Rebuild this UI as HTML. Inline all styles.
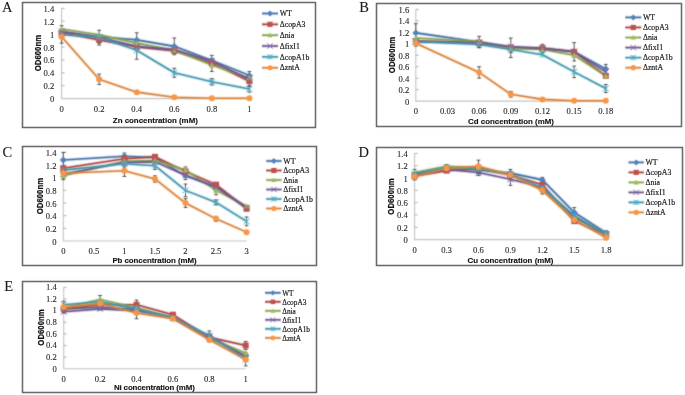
<!DOCTYPE html>
<html><head><meta charset="utf-8"><title>Figure</title>
<style>
html,body{margin:0;padding:0;background:#fff;}
body{width:685px;height:395px;overflow:hidden;font-family:"Liberation Sans",sans-serif;}
svg{display:block;will-change:transform;}
</style></head>
<body>
<svg width="685" height="395" viewBox="0 0 685 395">
<defs><filter id="bl" x="0" y="0" width="100%" height="100%" color-interpolation-filters="sRGB"><feConvolveMatrix order="3" kernelMatrix="0.03 0.09 0.03 0.09 0.52 0.09 0.03 0.09 0.03" divisor="1" edgeMode="duplicate" preserveAlpha="true"/></filter></defs>
<g filter="url(#bl)">
<rect width="685" height="395" fill="#fff"/>
<rect x="22.5" y="2.5" width="293" height="125" fill="#fff" stroke="#c8c8c8" stroke-width="1.6"/>
<rect x="22.5" y="2.5" width="293" height="125" fill="none" stroke="#333" stroke-width="1"/>
<path d="M61.60 8.30L61.60 98.60L249.40 98.60" stroke="#c4c4c4" stroke-width="1.1" fill="none"/>
<path d="M61.60 85.70H64.60" stroke="#a8a8a8" stroke-width="0.9"/>
<path d="M61.60 72.80H64.60" stroke="#a8a8a8" stroke-width="0.9"/>
<path d="M61.60 59.90H64.60" stroke="#a8a8a8" stroke-width="0.9"/>
<path d="M61.60 47.00H64.60" stroke="#a8a8a8" stroke-width="0.9"/>
<path d="M61.60 34.10H64.60" stroke="#a8a8a8" stroke-width="0.9"/>
<path d="M61.60 21.20H64.60" stroke="#a8a8a8" stroke-width="0.9"/>
<path d="M61.60 8.30H64.60" stroke="#a8a8a8" stroke-width="0.9"/>
<polyline points="61.60,31.52 99.16,36.68 136.72,39.90 174.28,46.35 211.84,60.54 249.40,75.38" fill="none" stroke="#4F81BD" stroke-opacity="0.22" stroke-width="3.6" stroke-linejoin="round"/>
<polyline points="61.60,31.52 99.16,36.68 136.72,39.90 174.28,46.35 211.84,60.54 249.40,75.38" fill="none" stroke="#4470a4" stroke-width="1.6" stroke-linejoin="round"/>
<polyline points="61.60,32.81 99.16,39.90 136.72,47.00 174.28,50.87 211.84,63.12 249.40,81.18" fill="none" stroke="#C0504D" stroke-opacity="0.22" stroke-width="3.6" stroke-linejoin="round"/>
<polyline points="61.60,32.81 99.16,39.90 136.72,47.00 174.28,50.87 211.84,63.12 249.40,81.18" fill="none" stroke="#a74542" stroke-width="1.6" stroke-linejoin="round"/>
<polyline points="61.60,28.94 99.16,34.74 136.72,43.13 174.28,50.22 211.84,65.06 249.40,77.96" fill="none" stroke="#9BBB59" stroke-opacity="0.22" stroke-width="3.6" stroke-linejoin="round"/>
<polyline points="61.60,28.94 99.16,34.74 136.72,43.13 174.28,50.22 211.84,65.06 249.40,77.96" fill="none" stroke="#86a24d" stroke-width="1.6" stroke-linejoin="round"/>
<polyline points="61.60,31.52 99.16,37.32 136.72,46.35 174.28,49.58 211.84,61.19 249.40,79.25" fill="none" stroke="#8064A2" stroke-opacity="0.22" stroke-width="3.6" stroke-linejoin="round"/>
<polyline points="61.60,31.52 99.16,37.32 136.72,46.35 174.28,49.58 211.84,61.19 249.40,79.25" fill="none" stroke="#6f578c" stroke-width="1.6" stroke-linejoin="round"/>
<polyline points="61.60,34.74 99.16,37.32 136.72,50.22 174.28,72.80 211.84,81.83 249.40,88.92" fill="none" stroke="#4BACC6" stroke-opacity="0.22" stroke-width="3.6" stroke-linejoin="round"/>
<polyline points="61.60,34.74 99.16,37.32 136.72,50.22 174.28,72.80 211.84,81.83 249.40,88.92" fill="none" stroke="#4195ac" stroke-width="1.6" stroke-linejoin="round"/>
<polyline points="61.60,36.68 99.16,79.25 136.72,92.15 174.28,97.31 211.84,98.28 249.40,98.28" fill="none" stroke="#F79646" stroke-opacity="0.22" stroke-width="3.6" stroke-linejoin="round"/>
<polyline points="61.60,36.68 99.16,79.25 136.72,92.15 174.28,97.31 211.84,98.28 249.40,98.28" fill="none" stroke="#d6823c" stroke-width="1.6" stroke-linejoin="round"/>
<path d="M61.60 25.71V37.32M59.70 25.71H63.50M59.70 37.32H63.50" stroke="#3a3a3a" stroke-width="0.85" fill="none"/>
<path d="M99.16 30.23V43.13M97.26 30.23H101.06M97.26 43.13H101.06" stroke="#3a3a3a" stroke-width="0.85" fill="none"/>
<path d="M136.72 32.81V47.00M134.82 32.81H138.62M134.82 47.00H138.62" stroke="#3a3a3a" stroke-width="0.85" fill="none"/>
<path d="M174.28 37.97V54.74M172.38 37.97H176.18M172.38 54.74H176.18" stroke="#3a3a3a" stroke-width="0.85" fill="none"/>
<path d="M211.84 55.38V65.70M209.94 55.38H213.74M209.94 65.70H213.74" stroke="#3a3a3a" stroke-width="0.85" fill="none"/>
<path d="M249.40 71.51V79.25M247.50 71.51H251.30M247.50 79.25H251.30" stroke="#3a3a3a" stroke-width="0.85" fill="none"/>
<path d="M99.16 34.74V45.06M97.26 34.74H101.06M97.26 45.06H101.06" stroke="#3a3a3a" stroke-width="0.85" fill="none"/>
<path d="M249.40 76.02V86.34M247.50 76.02H251.30M247.50 86.34H251.30" stroke="#3a3a3a" stroke-width="0.85" fill="none"/>
<path d="M211.84 58.61V71.51M209.94 58.61H213.74M209.94 71.51H213.74" stroke="#3a3a3a" stroke-width="0.85" fill="none"/>
<path d="M136.72 41.19V59.25M134.82 41.19H138.62M134.82 59.25H138.62" stroke="#3a3a3a" stroke-width="0.85" fill="none"/>
<path d="M174.28 68.28V77.31M172.38 68.28H176.18M172.38 77.31H176.18" stroke="#3a3a3a" stroke-width="0.85" fill="none"/>
<path d="M211.84 78.60V85.05M209.94 78.60H213.74M209.94 85.05H213.74" stroke="#3a3a3a" stroke-width="0.85" fill="none"/>
<path d="M249.40 85.70V92.15M247.50 85.70H251.30M247.50 92.15H251.30" stroke="#3a3a3a" stroke-width="0.85" fill="none"/>
<path d="M61.60 30.23V43.13M59.70 30.23H63.50M59.70 43.13H63.50" stroke="#3a3a3a" stroke-width="0.85" fill="none"/>
<path d="M99.16 74.09V84.41M97.26 74.09H101.06M97.26 84.41H101.06" stroke="#3a3a3a" stroke-width="0.85" fill="none"/>
<path d="M61.60 28.07L65.05 31.52L61.60 34.97L58.15 31.52Z" fill="#4F81BD"/>
<path d="M99.16 33.23L102.61 36.68L99.16 40.13L95.71 36.68Z" fill="#4F81BD"/>
<path d="M136.72 36.45L140.17 39.90L136.72 43.35L133.27 39.90Z" fill="#4F81BD"/>
<path d="M174.28 42.90L177.73 46.35L174.28 49.80L170.83 46.35Z" fill="#4F81BD"/>
<path d="M211.84 57.09L215.29 60.54L211.84 63.99L208.39 60.54Z" fill="#4F81BD"/>
<path d="M249.40 71.93L252.85 75.38L249.40 78.83L245.95 75.38Z" fill="#4F81BD"/>
<rect x="58.60" y="29.81" width="6.00" height="6.00" fill="#C0504D"/>
<rect x="96.16" y="36.90" width="6.00" height="6.00" fill="#C0504D"/>
<rect x="133.72" y="44.00" width="6.00" height="6.00" fill="#C0504D"/>
<rect x="171.28" y="47.87" width="6.00" height="6.00" fill="#C0504D"/>
<rect x="208.84" y="60.12" width="6.00" height="6.00" fill="#C0504D"/>
<rect x="246.40" y="78.18" width="6.00" height="6.00" fill="#C0504D"/>
<path d="M61.60 25.94L64.60 31.34L58.60 31.34Z" fill="#9BBB59"/>
<path d="M99.16 31.74L102.16 37.14L96.16 37.14Z" fill="#9BBB59"/>
<path d="M136.72 40.13L139.72 45.53L133.72 45.53Z" fill="#9BBB59"/>
<path d="M174.28 47.22L177.28 52.62L171.28 52.62Z" fill="#9BBB59"/>
<path d="M211.84 62.06L214.84 67.46L208.84 67.46Z" fill="#9BBB59"/>
<path d="M249.40 74.96L252.40 80.36L246.40 80.36Z" fill="#9BBB59"/>
<path d="M58.60 28.52L64.60 34.52M64.60 28.52L58.60 34.52" stroke="#8064A2" stroke-width="1" fill="none"/>
<path d="M96.16 34.32L102.16 40.32M102.16 34.32L96.16 40.32" stroke="#8064A2" stroke-width="1" fill="none"/>
<path d="M133.72 43.35L139.72 49.35M139.72 43.35L133.72 49.35" stroke="#8064A2" stroke-width="1" fill="none"/>
<path d="M171.28 46.58L177.28 52.58M177.28 46.58L171.28 52.58" stroke="#8064A2" stroke-width="1" fill="none"/>
<path d="M208.84 58.19L214.84 64.19M214.84 58.19L208.84 64.19" stroke="#8064A2" stroke-width="1" fill="none"/>
<path d="M246.40 76.25L252.40 82.25M252.40 76.25L246.40 82.25" stroke="#8064A2" stroke-width="1" fill="none"/>
<path d="M58.60 31.74L64.60 37.74M64.60 31.74L58.60 37.74M61.60 31.74L61.60 37.74" stroke="#4BACC6" stroke-width="1" fill="none"/>
<path d="M96.16 34.32L102.16 40.32M102.16 34.32L96.16 40.32M99.16 34.32L99.16 40.32" stroke="#4BACC6" stroke-width="1" fill="none"/>
<path d="M133.72 47.22L139.72 53.22M139.72 47.22L133.72 53.22M136.72 47.22L136.72 53.22" stroke="#4BACC6" stroke-width="1" fill="none"/>
<path d="M171.28 69.80L177.28 75.80M177.28 69.80L171.28 75.80M174.28 69.80L174.28 75.80" stroke="#4BACC6" stroke-width="1" fill="none"/>
<path d="M208.84 78.83L214.84 84.83M214.84 78.83L208.84 84.83M211.84 78.83L211.84 84.83" stroke="#4BACC6" stroke-width="1" fill="none"/>
<path d="M246.40 85.92L252.40 91.92M252.40 85.92L246.40 91.92M249.40 85.92L249.40 91.92" stroke="#4BACC6" stroke-width="1" fill="none"/>
<circle cx="61.60" cy="36.68" r="3.00" fill="#F79646"/>
<circle cx="99.16" cy="79.25" r="3.00" fill="#F79646"/>
<circle cx="136.72" cy="92.15" r="3.00" fill="#F79646"/>
<circle cx="174.28" cy="97.31" r="3.00" fill="#F79646"/>
<circle cx="211.84" cy="98.28" r="3.00" fill="#F79646"/>
<circle cx="249.40" cy="98.28" r="3.00" fill="#F79646"/>
<path d="M262 13.50H278" stroke="#4F81BD" stroke-opacity="0.22" stroke-width="3.6"/>
<path d="M262 13.50H278" stroke="#4470a4" stroke-width="1.6"/>
<path d="M270.00 10.51L272.99 13.50L270.00 16.49L267.01 13.50Z" fill="#4F81BD"/>
<path d="M262 24.35H278" stroke="#C0504D" stroke-opacity="0.22" stroke-width="3.6"/>
<path d="M262 24.35H278" stroke="#a74542" stroke-width="1.6"/>
<rect x="267.40" y="21.75" width="5.20" height="5.20" fill="#C0504D"/>
<path d="M262 35.20H278" stroke="#9BBB59" stroke-opacity="0.22" stroke-width="3.6"/>
<path d="M262 35.20H278" stroke="#86a24d" stroke-width="1.6"/>
<path d="M270.00 32.60L272.60 37.28L267.40 37.28Z" fill="#9BBB59"/>
<path d="M262 46.05H278" stroke="#8064A2" stroke-opacity="0.22" stroke-width="3.6"/>
<path d="M262 46.05H278" stroke="#6f578c" stroke-width="1.6"/>
<path d="M267.40 43.45L272.60 48.65M272.60 43.45L267.40 48.65" stroke="#8064A2" stroke-width="1" fill="none"/>
<path d="M262 56.90H278" stroke="#4BACC6" stroke-opacity="0.22" stroke-width="3.6"/>
<path d="M262 56.90H278" stroke="#4195ac" stroke-width="1.6"/>
<path d="M267.40 54.30L272.60 59.50M272.60 54.30L267.40 59.50M270.00 54.30L270.00 59.50" stroke="#4BACC6" stroke-width="1" fill="none"/>
<path d="M262 67.75H278" stroke="#F79646" stroke-opacity="0.22" stroke-width="3.6"/>
<path d="M262 67.75H278" stroke="#d6823c" stroke-width="1.6"/>
<circle cx="270.00" cy="67.75" r="2.60" fill="#F79646"/>
<rect x="376.5" y="3.5" width="305" height="123" fill="#fff" stroke="#c8c8c8" stroke-width="1.6"/>
<rect x="376.5" y="3.5" width="305" height="123" fill="none" stroke="#333" stroke-width="1"/>
<path d="M415.80 9.40L415.80 101.10L605.80 101.10" stroke="#c4c4c4" stroke-width="1.1" fill="none"/>
<path d="M415.80 89.64H418.80" stroke="#a8a8a8" stroke-width="0.9"/>
<path d="M415.80 78.17H418.80" stroke="#a8a8a8" stroke-width="0.9"/>
<path d="M415.80 66.71H418.80" stroke="#a8a8a8" stroke-width="0.9"/>
<path d="M415.80 55.25H418.80" stroke="#a8a8a8" stroke-width="0.9"/>
<path d="M415.80 43.79H418.80" stroke="#a8a8a8" stroke-width="0.9"/>
<path d="M415.80 32.33H418.80" stroke="#a8a8a8" stroke-width="0.9"/>
<path d="M415.80 20.86H418.80" stroke="#a8a8a8" stroke-width="0.9"/>
<path d="M415.80 9.40H418.80" stroke="#a8a8a8" stroke-width="0.9"/>
<polyline points="415.80,32.90 479.13,42.07 510.80,47.80 542.47,48.37 574.13,51.81 605.80,69.00" fill="none" stroke="#4F81BD" stroke-opacity="0.22" stroke-width="3.6" stroke-linejoin="round"/>
<polyline points="415.80,32.90 479.13,42.07 510.80,47.80 542.47,48.37 574.13,51.81 605.80,69.00" fill="none" stroke="#4470a4" stroke-width="1.6" stroke-linejoin="round"/>
<polyline points="415.80,40.92 479.13,42.64 510.80,47.80 542.47,48.37 574.13,51.81 605.80,75.88" fill="none" stroke="#C0504D" stroke-opacity="0.22" stroke-width="3.6" stroke-linejoin="round"/>
<polyline points="415.80,40.92 479.13,42.64 510.80,47.80 542.47,48.37 574.13,51.81 605.80,75.88" fill="none" stroke="#a74542" stroke-width="1.6" stroke-linejoin="round"/>
<polyline points="415.80,38.06 479.13,41.49 510.80,48.37 542.47,49.52 574.13,55.25 605.80,75.88" fill="none" stroke="#9BBB59" stroke-opacity="0.22" stroke-width="3.6" stroke-linejoin="round"/>
<polyline points="415.80,38.06 479.13,41.49 510.80,48.37 542.47,49.52 574.13,55.25 605.80,75.88" fill="none" stroke="#86a24d" stroke-width="1.6" stroke-linejoin="round"/>
<polyline points="415.80,42.07 479.13,42.64 510.80,46.65 542.47,48.37 574.13,51.81 605.80,71.87" fill="none" stroke="#8064A2" stroke-opacity="0.22" stroke-width="3.6" stroke-linejoin="round"/>
<polyline points="415.80,42.07 479.13,42.64 510.80,46.65 542.47,48.37 574.13,51.81 605.80,71.87" fill="none" stroke="#6f578c" stroke-width="1.6" stroke-linejoin="round"/>
<polyline points="415.80,41.49 479.13,44.36 510.80,49.52 542.47,54.68 574.13,71.87 605.80,88.49" fill="none" stroke="#4BACC6" stroke-opacity="0.22" stroke-width="3.6" stroke-linejoin="round"/>
<polyline points="415.80,41.49 479.13,44.36 510.80,49.52 542.47,54.68 574.13,71.87 605.80,88.49" fill="none" stroke="#4195ac" stroke-width="1.6" stroke-linejoin="round"/>
<polyline points="415.80,43.21 479.13,72.44 510.80,94.22 542.47,99.38 574.13,100.81 605.80,100.81" fill="none" stroke="#F79646" stroke-opacity="0.22" stroke-width="3.6" stroke-linejoin="round"/>
<polyline points="415.80,43.21 479.13,72.44 510.80,94.22 542.47,99.38 574.13,100.81 605.80,100.81" fill="none" stroke="#d6823c" stroke-width="1.6" stroke-linejoin="round"/>
<path d="M415.80 23.73V42.07M413.90 23.73H417.70M413.90 42.07H417.70" stroke="#3a3a3a" stroke-width="0.85" fill="none"/>
<path d="M479.13 36.34V47.80M477.23 36.34H481.03M477.23 47.80H481.03" stroke="#3a3a3a" stroke-width="0.85" fill="none"/>
<path d="M510.80 38.06V57.54M508.90 38.06H512.70M508.90 57.54H512.70" stroke="#3a3a3a" stroke-width="0.85" fill="none"/>
<path d="M542.47 44.36V52.38M540.57 44.36H544.37M540.57 52.38H544.37" stroke="#3a3a3a" stroke-width="0.85" fill="none"/>
<path d="M574.13 42.64V60.98M572.23 42.64H576.03M572.23 60.98H576.03" stroke="#3a3a3a" stroke-width="0.85" fill="none"/>
<path d="M605.80 64.42V73.59M603.90 64.42H607.70M603.90 73.59H607.70" stroke="#3a3a3a" stroke-width="0.85" fill="none"/>
<path d="M479.13 41.49V47.23M477.23 41.49H481.03M477.23 47.23H481.03" stroke="#3a3a3a" stroke-width="0.85" fill="none"/>
<path d="M510.80 46.65V52.38M508.90 46.65H512.70M508.90 52.38H512.70" stroke="#3a3a3a" stroke-width="0.85" fill="none"/>
<path d="M574.13 66.14V77.60M572.23 66.14H576.03M572.23 77.60H576.03" stroke="#3a3a3a" stroke-width="0.85" fill="none"/>
<path d="M605.80 84.48V92.50M603.90 84.48H607.70M603.90 92.50H607.70" stroke="#3a3a3a" stroke-width="0.85" fill="none"/>
<path d="M415.80 40.35V46.08M413.90 40.35H417.70M413.90 46.08H417.70" stroke="#3a3a3a" stroke-width="0.85" fill="none"/>
<path d="M479.13 66.71V78.17M477.23 66.71H481.03M477.23 78.17H481.03" stroke="#3a3a3a" stroke-width="0.85" fill="none"/>
<path d="M510.80 91.36V97.09M508.90 91.36H512.70M508.90 97.09H512.70" stroke="#3a3a3a" stroke-width="0.85" fill="none"/>
<path d="M415.80 29.45L419.25 32.90L415.80 36.35L412.35 32.90Z" fill="#4F81BD"/>
<path d="M479.13 38.62L482.58 42.07L479.13 45.52L475.68 42.07Z" fill="#4F81BD"/>
<path d="M510.80 44.35L514.25 47.80L510.80 51.25L507.35 47.80Z" fill="#4F81BD"/>
<path d="M542.47 44.92L545.92 48.37L542.47 51.82L539.02 48.37Z" fill="#4F81BD"/>
<path d="M574.13 48.36L577.58 51.81L574.13 55.26L570.68 51.81Z" fill="#4F81BD"/>
<path d="M605.80 65.55L609.25 69.00L605.80 72.45L602.35 69.00Z" fill="#4F81BD"/>
<rect x="412.80" y="37.92" width="6.00" height="6.00" fill="#C0504D"/>
<rect x="476.13" y="39.64" width="6.00" height="6.00" fill="#C0504D"/>
<rect x="507.80" y="44.80" width="6.00" height="6.00" fill="#C0504D"/>
<rect x="539.47" y="45.37" width="6.00" height="6.00" fill="#C0504D"/>
<rect x="571.13" y="48.81" width="6.00" height="6.00" fill="#C0504D"/>
<rect x="602.80" y="72.88" width="6.00" height="6.00" fill="#C0504D"/>
<path d="M415.80 35.06L418.80 40.46L412.80 40.46Z" fill="#9BBB59"/>
<path d="M479.13 38.49L482.13 43.89L476.13 43.89Z" fill="#9BBB59"/>
<path d="M510.80 45.37L513.80 50.77L507.80 50.77Z" fill="#9BBB59"/>
<path d="M542.47 46.52L545.47 51.92L539.47 51.92Z" fill="#9BBB59"/>
<path d="M574.13 52.25L577.13 57.65L571.13 57.65Z" fill="#9BBB59"/>
<path d="M605.80 72.88L608.80 78.28L602.80 78.28Z" fill="#9BBB59"/>
<path d="M412.80 39.07L418.80 45.07M418.80 39.07L412.80 45.07" stroke="#8064A2" stroke-width="1" fill="none"/>
<path d="M476.13 39.64L482.13 45.64M482.13 39.64L476.13 45.64" stroke="#8064A2" stroke-width="1" fill="none"/>
<path d="M507.80 43.65L513.80 49.65M513.80 43.65L507.80 49.65" stroke="#8064A2" stroke-width="1" fill="none"/>
<path d="M539.47 45.37L545.47 51.37M545.47 45.37L539.47 51.37" stroke="#8064A2" stroke-width="1" fill="none"/>
<path d="M571.13 48.81L577.13 54.81M577.13 48.81L571.13 54.81" stroke="#8064A2" stroke-width="1" fill="none"/>
<path d="M602.80 68.87L608.80 74.87M608.80 68.87L602.80 74.87" stroke="#8064A2" stroke-width="1" fill="none"/>
<path d="M412.80 38.49L418.80 44.49M418.80 38.49L412.80 44.49M415.80 38.49L415.80 44.49" stroke="#4BACC6" stroke-width="1" fill="none"/>
<path d="M476.13 41.36L482.13 47.36M482.13 41.36L476.13 47.36M479.13 41.36L479.13 47.36" stroke="#4BACC6" stroke-width="1" fill="none"/>
<path d="M507.80 46.52L513.80 52.52M513.80 46.52L507.80 52.52M510.80 46.52L510.80 52.52" stroke="#4BACC6" stroke-width="1" fill="none"/>
<path d="M539.47 51.68L545.47 57.68M545.47 51.68L539.47 57.68M542.47 51.68L542.47 57.68" stroke="#4BACC6" stroke-width="1" fill="none"/>
<path d="M571.13 68.87L577.13 74.87M577.13 68.87L571.13 74.87M574.13 68.87L574.13 74.87" stroke="#4BACC6" stroke-width="1" fill="none"/>
<path d="M602.80 85.49L608.80 91.49M608.80 85.49L602.80 91.49M605.80 85.49L605.80 91.49" stroke="#4BACC6" stroke-width="1" fill="none"/>
<circle cx="415.80" cy="43.21" r="3.00" fill="#F79646"/>
<circle cx="479.13" cy="72.44" r="3.00" fill="#F79646"/>
<circle cx="510.80" cy="94.22" r="3.00" fill="#F79646"/>
<circle cx="542.47" cy="99.38" r="3.00" fill="#F79646"/>
<circle cx="574.13" cy="100.81" r="3.00" fill="#F79646"/>
<circle cx="605.80" cy="100.81" r="3.00" fill="#F79646"/>
<path d="M625.3 17.40H641.2" stroke="#4F81BD" stroke-opacity="0.22" stroke-width="3.6"/>
<path d="M625.3 17.40H641.2" stroke="#4470a4" stroke-width="1.6"/>
<path d="M633.25 14.41L636.24 17.40L633.25 20.39L630.26 17.40Z" fill="#4F81BD"/>
<path d="M625.3 27.46H641.2" stroke="#C0504D" stroke-opacity="0.22" stroke-width="3.6"/>
<path d="M625.3 27.46H641.2" stroke="#a74542" stroke-width="1.6"/>
<rect x="630.65" y="24.86" width="5.20" height="5.20" fill="#C0504D"/>
<path d="M625.3 37.52H641.2" stroke="#9BBB59" stroke-opacity="0.22" stroke-width="3.6"/>
<path d="M625.3 37.52H641.2" stroke="#86a24d" stroke-width="1.6"/>
<path d="M633.25 34.92L635.85 39.60L630.65 39.60Z" fill="#9BBB59"/>
<path d="M625.3 47.58H641.2" stroke="#8064A2" stroke-opacity="0.22" stroke-width="3.6"/>
<path d="M625.3 47.58H641.2" stroke="#6f578c" stroke-width="1.6"/>
<path d="M630.65 44.98L635.85 50.18M635.85 44.98L630.65 50.18" stroke="#8064A2" stroke-width="1" fill="none"/>
<path d="M625.3 57.64H641.2" stroke="#4BACC6" stroke-opacity="0.22" stroke-width="3.6"/>
<path d="M625.3 57.64H641.2" stroke="#4195ac" stroke-width="1.6"/>
<path d="M630.65 55.04L635.85 60.24M635.85 55.04L630.65 60.24M633.25 55.04L633.25 60.24" stroke="#4BACC6" stroke-width="1" fill="none"/>
<path d="M625.3 67.70H641.2" stroke="#F79646" stroke-opacity="0.22" stroke-width="3.6"/>
<path d="M625.3 67.70H641.2" stroke="#d6823c" stroke-width="1.6"/>
<circle cx="633.25" cy="67.70" r="2.60" fill="#F79646"/>
<rect x="22.5" y="146.5" width="294" height="119" fill="#fff" stroke="#c8c8c8" stroke-width="1.6"/>
<rect x="22.5" y="146.5" width="294" height="119" fill="none" stroke="#333" stroke-width="1"/>
<path d="M63.30 152.40L63.30 241.00L246.60 241.00" stroke="#c4c4c4" stroke-width="1.1" fill="none"/>
<path d="M63.30 228.34H66.30" stroke="#a8a8a8" stroke-width="0.9"/>
<path d="M63.30 215.69H66.30" stroke="#a8a8a8" stroke-width="0.9"/>
<path d="M63.30 203.03H66.30" stroke="#a8a8a8" stroke-width="0.9"/>
<path d="M63.30 190.37H66.30" stroke="#a8a8a8" stroke-width="0.9"/>
<path d="M63.30 177.71H66.30" stroke="#a8a8a8" stroke-width="0.9"/>
<path d="M63.30 165.06H66.30" stroke="#a8a8a8" stroke-width="0.9"/>
<path d="M63.30 152.40H66.30" stroke="#a8a8a8" stroke-width="0.9"/>
<polyline points="63.30,159.99 124.40,156.20 154.95,157.46 185.50,175.82 216.05,186.57 246.60,208.09" fill="none" stroke="#4F81BD" stroke-opacity="0.22" stroke-width="3.6" stroke-linejoin="round"/>
<polyline points="63.30,159.99 124.40,156.20 154.95,157.46 185.50,175.82 216.05,186.57 246.60,208.09" fill="none" stroke="#4470a4" stroke-width="1.6" stroke-linejoin="round"/>
<polyline points="63.30,168.22 124.40,158.73 154.95,156.83 185.50,171.39 216.05,184.68 246.60,208.72" fill="none" stroke="#C0504D" stroke-opacity="0.22" stroke-width="3.6" stroke-linejoin="round"/>
<polyline points="63.30,168.22 124.40,158.73 154.95,156.83 185.50,171.39 216.05,184.68 246.60,208.72" fill="none" stroke="#a74542" stroke-width="1.6" stroke-linejoin="round"/>
<polyline points="63.30,175.82 124.40,161.26 154.95,160.63 185.50,170.12 216.05,190.37 246.60,206.19" fill="none" stroke="#9BBB59" stroke-opacity="0.22" stroke-width="3.6" stroke-linejoin="round"/>
<polyline points="63.30,175.82 124.40,161.26 154.95,160.63 185.50,170.12 216.05,190.37 246.60,206.19" fill="none" stroke="#86a24d" stroke-width="1.6" stroke-linejoin="round"/>
<polyline points="63.30,173.92 124.40,162.53 154.95,161.89 185.50,175.18 216.05,187.21 246.60,207.46" fill="none" stroke="#8064A2" stroke-opacity="0.22" stroke-width="3.6" stroke-linejoin="round"/>
<polyline points="63.30,173.92 124.40,162.53 154.95,161.89 185.50,175.18 216.05,187.21 246.60,207.46" fill="none" stroke="#6f578c" stroke-width="1.6" stroke-linejoin="round"/>
<polyline points="63.30,170.12 124.40,163.79 154.95,165.69 185.50,190.37 216.05,202.40 246.60,221.38" fill="none" stroke="#4BACC6" stroke-opacity="0.22" stroke-width="3.6" stroke-linejoin="round"/>
<polyline points="63.30,170.12 124.40,163.79 154.95,165.69 185.50,190.37 216.05,202.40 246.60,221.38" fill="none" stroke="#4195ac" stroke-width="1.6" stroke-linejoin="round"/>
<polyline points="63.30,173.28 124.40,170.75 154.95,178.98 185.50,203.03 216.05,218.85 246.60,232.14" fill="none" stroke="#F79646" stroke-opacity="0.22" stroke-width="3.6" stroke-linejoin="round"/>
<polyline points="63.30,173.28 124.40,170.75 154.95,178.98 185.50,203.03 216.05,218.85 246.60,232.14" fill="none" stroke="#d6823c" stroke-width="1.6" stroke-linejoin="round"/>
<path d="M63.30 152.40V167.59M61.40 152.40H65.20M61.40 167.59H65.20" stroke="#3a3a3a" stroke-width="0.85" fill="none"/>
<path d="M124.40 153.03V159.36M122.50 153.03H126.30M122.50 159.36H126.30" stroke="#3a3a3a" stroke-width="0.85" fill="none"/>
<path d="M154.95 154.93V159.99M153.05 154.93H156.85M153.05 159.99H156.85" stroke="#3a3a3a" stroke-width="0.85" fill="none"/>
<path d="M185.50 172.02V179.61M183.60 172.02H187.40M183.60 179.61H187.40" stroke="#3a3a3a" stroke-width="0.85" fill="none"/>
<path d="M216.05 183.41V189.74M214.15 183.41H217.95M214.15 189.74H217.95" stroke="#3a3a3a" stroke-width="0.85" fill="none"/>
<path d="M246.60 206.19V209.99M244.70 206.19H248.50M244.70 209.99H248.50" stroke="#3a3a3a" stroke-width="0.85" fill="none"/>
<path d="M63.30 172.02V179.61M61.40 172.02H65.20M61.40 179.61H65.20" stroke="#3a3a3a" stroke-width="0.85" fill="none"/>
<path d="M185.50 166.96V173.28M183.60 166.96H187.40M183.60 173.28H187.40" stroke="#3a3a3a" stroke-width="0.85" fill="none"/>
<path d="M216.05 185.94V194.80M214.15 185.94H217.95M214.15 194.80H217.95" stroke="#3a3a3a" stroke-width="0.85" fill="none"/>
<path d="M124.40 160.63V166.96M122.50 160.63H126.30M122.50 166.96H126.30" stroke="#3a3a3a" stroke-width="0.85" fill="none"/>
<path d="M154.95 161.89V169.49M153.05 161.89H156.85M153.05 169.49H156.85" stroke="#3a3a3a" stroke-width="0.85" fill="none"/>
<path d="M185.50 184.04V196.70M183.60 184.04H187.40M183.60 196.70H187.40" stroke="#3a3a3a" stroke-width="0.85" fill="none"/>
<path d="M216.05 199.86V204.93M214.15 199.86H217.95M214.15 204.93H217.95" stroke="#3a3a3a" stroke-width="0.85" fill="none"/>
<path d="M246.60 216.95V225.81M244.70 216.95H248.50M244.70 225.81H248.50" stroke="#3a3a3a" stroke-width="0.85" fill="none"/>
<path d="M63.30 168.85V177.71M61.40 168.85H65.20M61.40 177.71H65.20" stroke="#3a3a3a" stroke-width="0.85" fill="none"/>
<path d="M124.40 165.06V176.45M122.50 165.06H126.30M122.50 176.45H126.30" stroke="#3a3a3a" stroke-width="0.85" fill="none"/>
<path d="M154.95 175.82V182.14M153.05 175.82H156.85M153.05 182.14H156.85" stroke="#3a3a3a" stroke-width="0.85" fill="none"/>
<path d="M185.50 198.60V207.46M183.60 198.60H187.40M183.60 207.46H187.40" stroke="#3a3a3a" stroke-width="0.85" fill="none"/>
<path d="M216.05 216.32V221.38M214.15 216.32H217.95M214.15 221.38H217.95" stroke="#3a3a3a" stroke-width="0.85" fill="none"/>
<path d="M63.30 156.54L66.75 159.99L63.30 163.44L59.85 159.99Z" fill="#4F81BD"/>
<path d="M124.40 152.75L127.85 156.20L124.40 159.65L120.95 156.20Z" fill="#4F81BD"/>
<path d="M154.95 154.01L158.40 157.46L154.95 160.91L151.50 157.46Z" fill="#4F81BD"/>
<path d="M185.50 172.37L188.95 175.82L185.50 179.27L182.05 175.82Z" fill="#4F81BD"/>
<path d="M216.05 183.12L219.50 186.57L216.05 190.02L212.60 186.57Z" fill="#4F81BD"/>
<path d="M246.60 204.64L250.05 208.09L246.60 211.54L243.15 208.09Z" fill="#4F81BD"/>
<rect x="60.30" y="165.22" width="6.00" height="6.00" fill="#C0504D"/>
<rect x="121.40" y="155.73" width="6.00" height="6.00" fill="#C0504D"/>
<rect x="151.95" y="153.83" width="6.00" height="6.00" fill="#C0504D"/>
<rect x="182.50" y="168.39" width="6.00" height="6.00" fill="#C0504D"/>
<rect x="213.05" y="181.68" width="6.00" height="6.00" fill="#C0504D"/>
<rect x="243.60" y="205.72" width="6.00" height="6.00" fill="#C0504D"/>
<path d="M63.30 172.82L66.30 178.22L60.30 178.22Z" fill="#9BBB59"/>
<path d="M124.40 158.26L127.40 163.66L121.40 163.66Z" fill="#9BBB59"/>
<path d="M154.95 157.63L157.95 163.03L151.95 163.03Z" fill="#9BBB59"/>
<path d="M185.50 167.12L188.50 172.52L182.50 172.52Z" fill="#9BBB59"/>
<path d="M216.05 187.37L219.05 192.77L213.05 192.77Z" fill="#9BBB59"/>
<path d="M246.60 203.19L249.60 208.59L243.60 208.59Z" fill="#9BBB59"/>
<path d="M60.30 170.92L66.30 176.92M66.30 170.92L60.30 176.92" stroke="#8064A2" stroke-width="1" fill="none"/>
<path d="M121.40 159.53L127.40 165.53M127.40 159.53L121.40 165.53" stroke="#8064A2" stroke-width="1" fill="none"/>
<path d="M151.95 158.89L157.95 164.89M157.95 158.89L151.95 164.89" stroke="#8064A2" stroke-width="1" fill="none"/>
<path d="M182.50 172.18L188.50 178.18M188.50 172.18L182.50 178.18" stroke="#8064A2" stroke-width="1" fill="none"/>
<path d="M213.05 184.21L219.05 190.21M219.05 184.21L213.05 190.21" stroke="#8064A2" stroke-width="1" fill="none"/>
<path d="M243.60 204.46L249.60 210.46M249.60 204.46L243.60 210.46" stroke="#8064A2" stroke-width="1" fill="none"/>
<path d="M60.30 167.12L66.30 173.12M66.30 167.12L60.30 173.12M63.30 167.12L63.30 173.12" stroke="#4BACC6" stroke-width="1" fill="none"/>
<path d="M121.40 160.79L127.40 166.79M127.40 160.79L121.40 166.79M124.40 160.79L124.40 166.79" stroke="#4BACC6" stroke-width="1" fill="none"/>
<path d="M151.95 162.69L157.95 168.69M157.95 162.69L151.95 168.69M154.95 162.69L154.95 168.69" stroke="#4BACC6" stroke-width="1" fill="none"/>
<path d="M182.50 187.37L188.50 193.37M188.50 187.37L182.50 193.37M185.50 187.37L185.50 193.37" stroke="#4BACC6" stroke-width="1" fill="none"/>
<path d="M213.05 199.40L219.05 205.40M219.05 199.40L213.05 205.40M216.05 199.40L216.05 205.40" stroke="#4BACC6" stroke-width="1" fill="none"/>
<path d="M243.60 218.38L249.60 224.38M249.60 218.38L243.60 224.38M246.60 218.38L246.60 224.38" stroke="#4BACC6" stroke-width="1" fill="none"/>
<circle cx="63.30" cy="173.28" r="3.00" fill="#F79646"/>
<circle cx="124.40" cy="170.75" r="3.00" fill="#F79646"/>
<circle cx="154.95" cy="178.98" r="3.00" fill="#F79646"/>
<circle cx="185.50" cy="203.03" r="3.00" fill="#F79646"/>
<circle cx="216.05" cy="218.85" r="3.00" fill="#F79646"/>
<circle cx="246.60" cy="232.14" r="3.00" fill="#F79646"/>
<path d="M266.2 161.00H281.6" stroke="#4F81BD" stroke-opacity="0.22" stroke-width="3.6"/>
<path d="M266.2 161.00H281.6" stroke="#4470a4" stroke-width="1.6"/>
<path d="M273.90 158.01L276.89 161.00L273.90 163.99L270.91 161.00Z" fill="#4F81BD"/>
<path d="M266.2 170.50H281.6" stroke="#C0504D" stroke-opacity="0.22" stroke-width="3.6"/>
<path d="M266.2 170.50H281.6" stroke="#a74542" stroke-width="1.6"/>
<rect x="271.30" y="167.90" width="5.20" height="5.20" fill="#C0504D"/>
<path d="M266.2 180.00H281.6" stroke="#9BBB59" stroke-opacity="0.22" stroke-width="3.6"/>
<path d="M266.2 180.00H281.6" stroke="#86a24d" stroke-width="1.6"/>
<path d="M273.90 177.40L276.50 182.08L271.30 182.08Z" fill="#9BBB59"/>
<path d="M266.2 189.50H281.6" stroke="#8064A2" stroke-opacity="0.22" stroke-width="3.6"/>
<path d="M266.2 189.50H281.6" stroke="#6f578c" stroke-width="1.6"/>
<path d="M271.30 186.90L276.50 192.10M276.50 186.90L271.30 192.10" stroke="#8064A2" stroke-width="1" fill="none"/>
<path d="M266.2 199.00H281.6" stroke="#4BACC6" stroke-opacity="0.22" stroke-width="3.6"/>
<path d="M266.2 199.00H281.6" stroke="#4195ac" stroke-width="1.6"/>
<path d="M271.30 196.40L276.50 201.60M276.50 196.40L271.30 201.60M273.90 196.40L273.90 201.60" stroke="#4BACC6" stroke-width="1" fill="none"/>
<path d="M266.2 208.50H281.6" stroke="#F79646" stroke-opacity="0.22" stroke-width="3.6"/>
<path d="M266.2 208.50H281.6" stroke="#d6823c" stroke-width="1.6"/>
<circle cx="273.90" cy="208.50" r="2.60" fill="#F79646"/>
<rect x="376.5" y="147.5" width="306" height="118" fill="#fff" stroke="#c8c8c8" stroke-width="1.6"/>
<rect x="376.5" y="147.5" width="306" height="118" fill="none" stroke="#333" stroke-width="1"/>
<path d="M414.60 153.40L414.60 239.60L606.20 239.60" stroke="#c4c4c4" stroke-width="1.1" fill="none"/>
<path d="M414.60 227.29H417.60" stroke="#a8a8a8" stroke-width="0.9"/>
<path d="M414.60 214.97H417.60" stroke="#a8a8a8" stroke-width="0.9"/>
<path d="M414.60 202.66H417.60" stroke="#a8a8a8" stroke-width="0.9"/>
<path d="M414.60 190.34H417.60" stroke="#a8a8a8" stroke-width="0.9"/>
<path d="M414.60 178.03H417.60" stroke="#a8a8a8" stroke-width="0.9"/>
<path d="M414.60 165.71H417.60" stroke="#a8a8a8" stroke-width="0.9"/>
<path d="M414.60 153.40H417.60" stroke="#a8a8a8" stroke-width="0.9"/>
<polyline points="414.60,174.33 446.53,168.18 478.47,170.02 510.40,173.10 542.33,179.88 574.27,212.51 606.20,232.83" fill="none" stroke="#4F81BD" stroke-opacity="0.22" stroke-width="3.6" stroke-linejoin="round"/>
<polyline points="414.60,174.33 446.53,168.18 478.47,170.02 510.40,173.10 542.33,179.88 574.27,212.51 606.20,232.83" fill="none" stroke="#4470a4" stroke-width="1.6" stroke-linejoin="round"/>
<polyline points="414.60,176.18 446.53,170.64 478.47,168.79 510.40,174.95 542.33,184.80 574.27,221.13 606.20,234.67" fill="none" stroke="#C0504D" stroke-opacity="0.22" stroke-width="3.6" stroke-linejoin="round"/>
<polyline points="414.60,176.18 446.53,170.64 478.47,168.79 510.40,174.95 542.33,184.80 574.27,221.13 606.20,234.67" fill="none" stroke="#a74542" stroke-width="1.6" stroke-linejoin="round"/>
<polyline points="414.60,172.49 446.53,166.33 478.47,167.56 510.40,174.33 542.33,189.73 574.27,218.05 606.20,233.44" fill="none" stroke="#9BBB59" stroke-opacity="0.22" stroke-width="3.6" stroke-linejoin="round"/>
<polyline points="414.60,172.49 446.53,166.33 478.47,167.56 510.40,174.33 542.33,189.73 574.27,218.05 606.20,233.44" fill="none" stroke="#86a24d" stroke-width="1.6" stroke-linejoin="round"/>
<polyline points="414.60,174.95 446.53,169.41 478.47,172.49 510.40,179.26 542.33,187.26 574.27,216.82 606.20,234.06" fill="none" stroke="#8064A2" stroke-opacity="0.22" stroke-width="3.6" stroke-linejoin="round"/>
<polyline points="414.60,174.95 446.53,169.41 478.47,172.49 510.40,179.26 542.33,187.26 574.27,216.82 606.20,234.06" fill="none" stroke="#6f578c" stroke-width="1.6" stroke-linejoin="round"/>
<polyline points="414.60,173.72 446.53,167.56 478.47,168.79 510.40,174.33 542.33,187.88 574.27,215.59 606.20,234.67" fill="none" stroke="#4BACC6" stroke-opacity="0.22" stroke-width="3.6" stroke-linejoin="round"/>
<polyline points="414.60,173.72 446.53,167.56 478.47,168.79 510.40,174.33 542.33,187.88 574.27,215.59 606.20,234.67" fill="none" stroke="#4195ac" stroke-width="1.6" stroke-linejoin="round"/>
<polyline points="414.60,176.80 446.53,168.18 478.47,166.33 510.40,174.95 542.33,190.34 574.27,219.90 606.20,237.75" fill="none" stroke="#F79646" stroke-opacity="0.22" stroke-width="3.6" stroke-linejoin="round"/>
<polyline points="414.60,176.80 446.53,168.18 478.47,166.33 510.40,174.95 542.33,190.34 574.27,219.90 606.20,237.75" fill="none" stroke="#d6823c" stroke-width="1.6" stroke-linejoin="round"/>
<path d="M414.60 169.41V179.26M412.70 169.41H416.50M412.70 179.26H416.50" stroke="#3a3a3a" stroke-width="0.85" fill="none"/>
<path d="M446.53 164.48V171.87M444.63 164.48H448.43M444.63 171.87H448.43" stroke="#3a3a3a" stroke-width="0.85" fill="none"/>
<path d="M478.47 166.33V173.72M476.57 166.33H480.37M476.57 173.72H480.37" stroke="#3a3a3a" stroke-width="0.85" fill="none"/>
<path d="M510.40 169.41V176.80M508.50 169.41H512.30M508.50 176.80H512.30" stroke="#3a3a3a" stroke-width="0.85" fill="none"/>
<path d="M542.33 177.41V182.34M540.43 177.41H544.23M540.43 182.34H544.23" stroke="#3a3a3a" stroke-width="0.85" fill="none"/>
<path d="M574.27 207.58V217.43M572.37 207.58H576.17M572.37 217.43H576.17" stroke="#3a3a3a" stroke-width="0.85" fill="none"/>
<path d="M606.20 230.98V234.67M604.30 230.98H608.10M604.30 234.67H608.10" stroke="#3a3a3a" stroke-width="0.85" fill="none"/>
<path d="M478.47 169.41V175.57M476.57 169.41H480.37M476.57 175.57H480.37" stroke="#3a3a3a" stroke-width="0.85" fill="none"/>
<path d="M510.40 173.10V185.42M508.50 173.10H512.30M508.50 185.42H512.30" stroke="#3a3a3a" stroke-width="0.85" fill="none"/>
<path d="M414.60 173.72V179.88M412.70 173.72H416.50M412.70 179.88H416.50" stroke="#3a3a3a" stroke-width="0.85" fill="none"/>
<path d="M446.53 166.33V170.02M444.63 166.33H448.43M444.63 170.02H448.43" stroke="#3a3a3a" stroke-width="0.85" fill="none"/>
<path d="M478.47 160.17V172.49M476.57 160.17H480.37M476.57 172.49H480.37" stroke="#3a3a3a" stroke-width="0.85" fill="none"/>
<path d="M510.40 171.87V178.03M508.50 171.87H512.30M508.50 178.03H512.30" stroke="#3a3a3a" stroke-width="0.85" fill="none"/>
<path d="M542.33 186.65V194.04M540.43 186.65H544.23M540.43 194.04H544.23" stroke="#3a3a3a" stroke-width="0.85" fill="none"/>
<path d="M574.27 218.05V221.74M572.37 218.05H576.17M572.37 221.74H576.17" stroke="#3a3a3a" stroke-width="0.85" fill="none"/>
<path d="M606.20 235.91V239.60M604.30 235.91H608.10M604.30 239.60H608.10" stroke="#3a3a3a" stroke-width="0.85" fill="none"/>
<path d="M414.60 170.88L418.05 174.33L414.60 177.78L411.15 174.33Z" fill="#4F81BD"/>
<path d="M446.53 164.73L449.98 168.18L446.53 171.63L443.08 168.18Z" fill="#4F81BD"/>
<path d="M478.47 166.57L481.92 170.02L478.47 173.47L475.02 170.02Z" fill="#4F81BD"/>
<path d="M510.40 169.65L513.85 173.10L510.40 176.55L506.95 173.10Z" fill="#4F81BD"/>
<path d="M542.33 176.43L545.78 179.88L542.33 183.33L538.88 179.88Z" fill="#4F81BD"/>
<path d="M574.27 209.06L577.72 212.51L574.27 215.96L570.82 212.51Z" fill="#4F81BD"/>
<path d="M606.20 229.38L609.65 232.83L606.20 236.28L602.75 232.83Z" fill="#4F81BD"/>
<rect x="411.60" y="173.18" width="6.00" height="6.00" fill="#C0504D"/>
<rect x="443.53" y="167.64" width="6.00" height="6.00" fill="#C0504D"/>
<rect x="475.47" y="165.79" width="6.00" height="6.00" fill="#C0504D"/>
<rect x="507.40" y="171.95" width="6.00" height="6.00" fill="#C0504D"/>
<rect x="539.33" y="181.80" width="6.00" height="6.00" fill="#C0504D"/>
<rect x="571.27" y="218.13" width="6.00" height="6.00" fill="#C0504D"/>
<rect x="603.20" y="231.67" width="6.00" height="6.00" fill="#C0504D"/>
<path d="M414.60 169.49L417.60 174.89L411.60 174.89Z" fill="#9BBB59"/>
<path d="M446.53 163.33L449.53 168.73L443.53 168.73Z" fill="#9BBB59"/>
<path d="M478.47 164.56L481.47 169.96L475.47 169.96Z" fill="#9BBB59"/>
<path d="M510.40 171.33L513.40 176.73L507.40 176.73Z" fill="#9BBB59"/>
<path d="M542.33 186.73L545.33 192.13L539.33 192.13Z" fill="#9BBB59"/>
<path d="M574.27 215.05L577.27 220.45L571.27 220.45Z" fill="#9BBB59"/>
<path d="M606.20 230.44L609.20 235.84L603.20 235.84Z" fill="#9BBB59"/>
<path d="M411.60 171.95L417.60 177.95M417.60 171.95L411.60 177.95" stroke="#8064A2" stroke-width="1" fill="none"/>
<path d="M443.53 166.41L449.53 172.41M449.53 166.41L443.53 172.41" stroke="#8064A2" stroke-width="1" fill="none"/>
<path d="M475.47 169.49L481.47 175.49M481.47 169.49L475.47 175.49" stroke="#8064A2" stroke-width="1" fill="none"/>
<path d="M507.40 176.26L513.40 182.26M513.40 176.26L507.40 182.26" stroke="#8064A2" stroke-width="1" fill="none"/>
<path d="M539.33 184.26L545.33 190.26M545.33 184.26L539.33 190.26" stroke="#8064A2" stroke-width="1" fill="none"/>
<path d="M571.27 213.82L577.27 219.82M577.27 213.82L571.27 219.82" stroke="#8064A2" stroke-width="1" fill="none"/>
<path d="M603.20 231.06L609.20 237.06M609.20 231.06L603.20 237.06" stroke="#8064A2" stroke-width="1" fill="none"/>
<path d="M411.60 170.72L417.60 176.72M417.60 170.72L411.60 176.72M414.60 170.72L414.60 176.72" stroke="#4BACC6" stroke-width="1" fill="none"/>
<path d="M443.53 164.56L449.53 170.56M449.53 164.56L443.53 170.56M446.53 164.56L446.53 170.56" stroke="#4BACC6" stroke-width="1" fill="none"/>
<path d="M475.47 165.79L481.47 171.79M481.47 165.79L475.47 171.79M478.47 165.79L478.47 171.79" stroke="#4BACC6" stroke-width="1" fill="none"/>
<path d="M507.40 171.33L513.40 177.33M513.40 171.33L507.40 177.33M510.40 171.33L510.40 177.33" stroke="#4BACC6" stroke-width="1" fill="none"/>
<path d="M539.33 184.88L545.33 190.88M545.33 184.88L539.33 190.88M542.33 184.88L542.33 190.88" stroke="#4BACC6" stroke-width="1" fill="none"/>
<path d="M571.27 212.59L577.27 218.59M577.27 212.59L571.27 218.59M574.27 212.59L574.27 218.59" stroke="#4BACC6" stroke-width="1" fill="none"/>
<path d="M603.20 231.67L609.20 237.67M609.20 231.67L603.20 237.67M606.20 231.67L606.20 237.67" stroke="#4BACC6" stroke-width="1" fill="none"/>
<circle cx="414.60" cy="176.80" r="3.00" fill="#F79646"/>
<circle cx="446.53" cy="168.18" r="3.00" fill="#F79646"/>
<circle cx="478.47" cy="166.33" r="3.00" fill="#F79646"/>
<circle cx="510.40" cy="174.95" r="3.00" fill="#F79646"/>
<circle cx="542.33" cy="190.34" r="3.00" fill="#F79646"/>
<circle cx="574.27" cy="219.90" r="3.00" fill="#F79646"/>
<circle cx="606.20" cy="237.75" r="3.00" fill="#F79646"/>
<path d="M628.5 162.40H643.9" stroke="#4F81BD" stroke-opacity="0.22" stroke-width="3.6"/>
<path d="M628.5 162.40H643.9" stroke="#4470a4" stroke-width="1.6"/>
<path d="M636.20 159.41L639.19 162.40L636.20 165.39L633.21 162.40Z" fill="#4F81BD"/>
<path d="M628.5 172.40H643.9" stroke="#C0504D" stroke-opacity="0.22" stroke-width="3.6"/>
<path d="M628.5 172.40H643.9" stroke="#a74542" stroke-width="1.6"/>
<rect x="633.60" y="169.80" width="5.20" height="5.20" fill="#C0504D"/>
<path d="M628.5 182.40H643.9" stroke="#9BBB59" stroke-opacity="0.22" stroke-width="3.6"/>
<path d="M628.5 182.40H643.9" stroke="#86a24d" stroke-width="1.6"/>
<path d="M636.20 179.80L638.80 184.48L633.60 184.48Z" fill="#9BBB59"/>
<path d="M628.5 192.40H643.9" stroke="#8064A2" stroke-opacity="0.22" stroke-width="3.6"/>
<path d="M628.5 192.40H643.9" stroke="#6f578c" stroke-width="1.6"/>
<path d="M633.60 189.80L638.80 195.00M638.80 189.80L633.60 195.00" stroke="#8064A2" stroke-width="1" fill="none"/>
<path d="M628.5 202.40H643.9" stroke="#4BACC6" stroke-opacity="0.22" stroke-width="3.6"/>
<path d="M628.5 202.40H643.9" stroke="#4195ac" stroke-width="1.6"/>
<path d="M633.60 199.80L638.80 205.00M638.80 199.80L633.60 205.00M636.20 199.80L636.20 205.00" stroke="#4BACC6" stroke-width="1" fill="none"/>
<path d="M628.5 212.40H643.9" stroke="#F79646" stroke-opacity="0.22" stroke-width="3.6"/>
<path d="M628.5 212.40H643.9" stroke="#d6823c" stroke-width="1.6"/>
<circle cx="636.20" cy="212.40" r="2.60" fill="#F79646"/>
<rect x="22.5" y="281.5" width="294" height="111" fill="#fff" stroke="#c8c8c8" stroke-width="1.6"/>
<rect x="22.5" y="281.5" width="294" height="111" fill="none" stroke="#333" stroke-width="1"/>
<path d="M63.70 287.30L63.70 368.80L245.70 368.80" stroke="#c4c4c4" stroke-width="1.1" fill="none"/>
<path d="M63.70 357.16H66.70" stroke="#a8a8a8" stroke-width="0.9"/>
<path d="M63.70 345.51H66.70" stroke="#a8a8a8" stroke-width="0.9"/>
<path d="M63.70 333.87H66.70" stroke="#a8a8a8" stroke-width="0.9"/>
<path d="M63.70 322.23H66.70" stroke="#a8a8a8" stroke-width="0.9"/>
<path d="M63.70 310.59H66.70" stroke="#a8a8a8" stroke-width="0.9"/>
<path d="M63.70 298.94H66.70" stroke="#a8a8a8" stroke-width="0.9"/>
<path d="M63.70 287.30H66.70" stroke="#a8a8a8" stroke-width="0.9"/>
<polyline points="63.70,308.84 100.10,307.09 136.50,309.42 172.90,317.57 209.30,336.20 245.70,355.99" fill="none" stroke="#4F81BD" stroke-opacity="0.22" stroke-width="3.6" stroke-linejoin="round"/>
<polyline points="63.70,308.84 100.10,307.09 136.50,309.42 172.90,317.57 209.30,336.20 245.70,355.99" fill="none" stroke="#4470a4" stroke-width="1.6" stroke-linejoin="round"/>
<polyline points="63.70,308.84 100.10,304.76 136.50,304.76 172.90,314.66 209.30,337.36 245.70,345.51" fill="none" stroke="#C0504D" stroke-opacity="0.22" stroke-width="3.6" stroke-linejoin="round"/>
<polyline points="63.70,308.84 100.10,304.76 136.50,304.76 172.90,314.66 209.30,337.36 245.70,345.51" fill="none" stroke="#a74542" stroke-width="1.6" stroke-linejoin="round"/>
<polyline points="63.70,307.68 100.10,299.52 136.50,307.68 172.90,317.57 209.30,338.53 245.70,353.08" fill="none" stroke="#9BBB59" stroke-opacity="0.22" stroke-width="3.6" stroke-linejoin="round"/>
<polyline points="63.70,307.68 100.10,299.52 136.50,307.68 172.90,317.57 209.30,338.53 245.70,353.08" fill="none" stroke="#86a24d" stroke-width="1.6" stroke-linejoin="round"/>
<polyline points="63.70,311.75 100.10,308.84 136.50,310.59 172.90,317.57 209.30,336.78 245.70,357.16" fill="none" stroke="#8064A2" stroke-opacity="0.22" stroke-width="3.6" stroke-linejoin="round"/>
<polyline points="63.70,311.75 100.10,308.84 136.50,310.59 172.90,317.57 209.30,336.78 245.70,357.16" fill="none" stroke="#6f578c" stroke-width="1.6" stroke-linejoin="round"/>
<polyline points="63.70,304.76 100.10,301.85 136.50,308.84 172.90,318.15 209.30,335.62 245.70,359.49" fill="none" stroke="#4BACC6" stroke-opacity="0.22" stroke-width="3.6" stroke-linejoin="round"/>
<polyline points="63.70,304.76 100.10,301.85 136.50,308.84 172.90,318.15 209.30,335.62 245.70,359.49" fill="none" stroke="#4195ac" stroke-width="1.6" stroke-linejoin="round"/>
<polyline points="63.70,307.09 100.10,303.60 136.50,312.91 172.90,318.74 209.30,339.69 245.70,359.49" fill="none" stroke="#F79646" stroke-opacity="0.22" stroke-width="3.6" stroke-linejoin="round"/>
<polyline points="63.70,307.09 100.10,303.60 136.50,312.91 172.90,318.74 209.30,339.69 245.70,359.49" fill="none" stroke="#d6823c" stroke-width="1.6" stroke-linejoin="round"/>
<path d="M63.70 305.35V312.33M61.80 305.35H65.60M61.80 312.33H65.60" stroke="#3a3a3a" stroke-width="0.85" fill="none"/>
<path d="M100.10 304.18V310.00M98.20 304.18H102.00M98.20 310.00H102.00" stroke="#3a3a3a" stroke-width="0.85" fill="none"/>
<path d="M136.50 306.51V312.33M134.60 306.51H138.40M134.60 312.33H138.40" stroke="#3a3a3a" stroke-width="0.85" fill="none"/>
<path d="M172.90 316.41V318.74M171.00 316.41H174.80M171.00 318.74H174.80" stroke="#3a3a3a" stroke-width="0.85" fill="none"/>
<path d="M209.30 333.87V338.53M207.40 333.87H211.20M207.40 338.53H211.20" stroke="#3a3a3a" stroke-width="0.85" fill="none"/>
<path d="M245.70 353.08V358.90M243.80 353.08H247.60M243.80 358.90H247.60" stroke="#3a3a3a" stroke-width="0.85" fill="none"/>
<path d="M136.50 300.11V309.42M134.60 300.11H138.40M134.60 309.42H138.40" stroke="#3a3a3a" stroke-width="0.85" fill="none"/>
<path d="M245.70 341.44V349.59M243.80 341.44H247.60M243.80 349.59H247.60" stroke="#3a3a3a" stroke-width="0.85" fill="none"/>
<path d="M100.10 295.45V303.60M98.20 295.45H102.00M98.20 303.60H102.00" stroke="#3a3a3a" stroke-width="0.85" fill="none"/>
<path d="M209.30 330.96V340.28M207.40 330.96H211.20M207.40 340.28H211.20" stroke="#3a3a3a" stroke-width="0.85" fill="none"/>
<path d="M63.70 301.27V312.91M61.80 301.27H65.60M61.80 312.91H65.60" stroke="#3a3a3a" stroke-width="0.85" fill="none"/>
<path d="M100.10 300.69V306.51M98.20 300.69H102.00M98.20 306.51H102.00" stroke="#3a3a3a" stroke-width="0.85" fill="none"/>
<path d="M136.50 307.09V318.74M134.60 307.09H138.40M134.60 318.74H138.40" stroke="#3a3a3a" stroke-width="0.85" fill="none"/>
<path d="M172.90 316.99V320.48M171.00 316.99H174.80M171.00 320.48H174.80" stroke="#3a3a3a" stroke-width="0.85" fill="none"/>
<path d="M209.30 337.36V342.02M207.40 337.36H211.20M207.40 342.02H211.20" stroke="#3a3a3a" stroke-width="0.85" fill="none"/>
<path d="M245.70 353.08V365.89M243.80 353.08H247.60M243.80 365.89H247.60" stroke="#3a3a3a" stroke-width="0.85" fill="none"/>
<path d="M63.70 305.39L67.15 308.84L63.70 312.29L60.25 308.84Z" fill="#4F81BD"/>
<path d="M100.10 303.64L103.55 307.09L100.10 310.54L96.65 307.09Z" fill="#4F81BD"/>
<path d="M136.50 305.97L139.95 309.42L136.50 312.87L133.05 309.42Z" fill="#4F81BD"/>
<path d="M172.90 314.12L176.35 317.57L172.90 321.02L169.45 317.57Z" fill="#4F81BD"/>
<path d="M209.30 332.75L212.75 336.20L209.30 339.65L205.85 336.20Z" fill="#4F81BD"/>
<path d="M245.70 352.54L249.15 355.99L245.70 359.44L242.25 355.99Z" fill="#4F81BD"/>
<rect x="60.70" y="305.84" width="6.00" height="6.00" fill="#C0504D"/>
<rect x="97.10" y="301.76" width="6.00" height="6.00" fill="#C0504D"/>
<rect x="133.50" y="301.76" width="6.00" height="6.00" fill="#C0504D"/>
<rect x="169.90" y="311.66" width="6.00" height="6.00" fill="#C0504D"/>
<rect x="206.30" y="334.36" width="6.00" height="6.00" fill="#C0504D"/>
<rect x="242.70" y="342.51" width="6.00" height="6.00" fill="#C0504D"/>
<path d="M63.70 304.68L66.70 310.07L60.70 310.07Z" fill="#9BBB59"/>
<path d="M100.10 296.52L103.10 301.92L97.10 301.92Z" fill="#9BBB59"/>
<path d="M136.50 304.68L139.50 310.07L133.50 310.07Z" fill="#9BBB59"/>
<path d="M172.90 314.57L175.90 319.97L169.90 319.97Z" fill="#9BBB59"/>
<path d="M209.30 335.53L212.30 340.93L206.30 340.93Z" fill="#9BBB59"/>
<path d="M245.70 350.08L248.70 355.48L242.70 355.48Z" fill="#9BBB59"/>
<path d="M60.70 308.75L66.70 314.75M66.70 308.75L60.70 314.75" stroke="#8064A2" stroke-width="1" fill="none"/>
<path d="M97.10 305.84L103.10 311.84M103.10 305.84L97.10 311.84" stroke="#8064A2" stroke-width="1" fill="none"/>
<path d="M133.50 307.59L139.50 313.59M139.50 307.59L133.50 313.59" stroke="#8064A2" stroke-width="1" fill="none"/>
<path d="M169.90 314.57L175.90 320.57M175.90 314.57L169.90 320.57" stroke="#8064A2" stroke-width="1" fill="none"/>
<path d="M206.30 333.78L212.30 339.78M212.30 333.78L206.30 339.78" stroke="#8064A2" stroke-width="1" fill="none"/>
<path d="M242.70 354.16L248.70 360.16M248.70 354.16L242.70 360.16" stroke="#8064A2" stroke-width="1" fill="none"/>
<path d="M60.70 301.76L66.70 307.76M66.70 301.76L60.70 307.76M63.70 301.76L63.70 307.76" stroke="#4BACC6" stroke-width="1" fill="none"/>
<path d="M97.10 298.85L103.10 304.85M103.10 298.85L97.10 304.85M100.10 298.85L100.10 304.85" stroke="#4BACC6" stroke-width="1" fill="none"/>
<path d="M133.50 305.84L139.50 311.84M139.50 305.84L133.50 311.84M136.50 305.84L136.50 311.84" stroke="#4BACC6" stroke-width="1" fill="none"/>
<path d="M169.90 315.15L175.90 321.15M175.90 315.15L169.90 321.15M172.90 315.15L172.90 321.15" stroke="#4BACC6" stroke-width="1" fill="none"/>
<path d="M206.30 332.62L212.30 338.62M212.30 332.62L206.30 338.62M209.30 332.62L209.30 338.62" stroke="#4BACC6" stroke-width="1" fill="none"/>
<path d="M242.70 356.49L248.70 362.49M248.70 356.49L242.70 362.49M245.70 356.49L245.70 362.49" stroke="#4BACC6" stroke-width="1" fill="none"/>
<circle cx="63.70" cy="307.09" r="3.00" fill="#F79646"/>
<circle cx="100.10" cy="303.60" r="3.00" fill="#F79646"/>
<circle cx="136.50" cy="312.91" r="3.00" fill="#F79646"/>
<circle cx="172.90" cy="318.74" r="3.00" fill="#F79646"/>
<circle cx="209.30" cy="339.69" r="3.00" fill="#F79646"/>
<circle cx="245.70" cy="359.49" r="3.00" fill="#F79646"/>
<path d="M265.1 292.80H280.7" stroke="#4F81BD" stroke-opacity="0.22" stroke-width="3.6"/>
<path d="M265.1 292.80H280.7" stroke="#4470a4" stroke-width="1.6"/>
<path d="M272.90 290.15L275.54 292.80L272.90 295.44L270.25 292.80Z" fill="#4F81BD"/>
<path d="M265.1 301.82H280.7" stroke="#C0504D" stroke-opacity="0.22" stroke-width="3.6"/>
<path d="M265.1 301.82H280.7" stroke="#a74542" stroke-width="1.6"/>
<rect x="270.60" y="299.52" width="4.60" height="4.60" fill="#C0504D"/>
<path d="M265.1 310.84H280.7" stroke="#9BBB59" stroke-opacity="0.22" stroke-width="3.6"/>
<path d="M265.1 310.84H280.7" stroke="#86a24d" stroke-width="1.6"/>
<path d="M272.90 308.54L275.20 312.68L270.60 312.68Z" fill="#9BBB59"/>
<path d="M265.1 319.86H280.7" stroke="#8064A2" stroke-opacity="0.22" stroke-width="3.6"/>
<path d="M265.1 319.86H280.7" stroke="#6f578c" stroke-width="1.6"/>
<path d="M270.60 317.56L275.20 322.16M275.20 317.56L270.60 322.16" stroke="#8064A2" stroke-width="1" fill="none"/>
<path d="M265.1 328.88H280.7" stroke="#4BACC6" stroke-opacity="0.22" stroke-width="3.6"/>
<path d="M265.1 328.88H280.7" stroke="#4195ac" stroke-width="1.6"/>
<path d="M270.60 326.58L275.20 331.18M275.20 326.58L270.60 331.18M272.90 326.58L272.90 331.18" stroke="#4BACC6" stroke-width="1" fill="none"/>
<path d="M265.1 337.90H280.7" stroke="#F79646" stroke-opacity="0.22" stroke-width="3.6"/>
<path d="M265.1 337.90H280.7" stroke="#d6823c" stroke-width="1.6"/>
<circle cx="272.90" cy="337.90" r="2.30" fill="#F79646"/>
</g>
<text x="2.0" y="12.0" font-family='"Liberation Serif", serif' font-size="14.5" fill="#1a1a1a" stroke="#1a1a1a" stroke-width="0.1">A</text>
<text x="54.3" y="102.10" text-anchor="end" font-family='"Liberation Serif", serif' font-size="8.6" fill="#2a2a2a" stroke="#2a2a2a" stroke-width="0.12">0</text>
<text x="54.3" y="89.20" text-anchor="end" font-family='"Liberation Serif", serif' font-size="8.6" fill="#2a2a2a" stroke="#2a2a2a" stroke-width="0.12">0.2</text>
<text x="54.3" y="76.30" text-anchor="end" font-family='"Liberation Serif", serif' font-size="8.6" fill="#2a2a2a" stroke="#2a2a2a" stroke-width="0.12">0.4</text>
<text x="54.3" y="63.40" text-anchor="end" font-family='"Liberation Serif", serif' font-size="8.6" fill="#2a2a2a" stroke="#2a2a2a" stroke-width="0.12">0.6</text>
<text x="54.3" y="50.50" text-anchor="end" font-family='"Liberation Serif", serif' font-size="8.6" fill="#2a2a2a" stroke="#2a2a2a" stroke-width="0.12">0.8</text>
<text x="54.3" y="37.60" text-anchor="end" font-family='"Liberation Serif", serif' font-size="8.6" fill="#2a2a2a" stroke="#2a2a2a" stroke-width="0.12">1</text>
<text x="54.3" y="24.70" text-anchor="end" font-family='"Liberation Serif", serif' font-size="8.6" fill="#2a2a2a" stroke="#2a2a2a" stroke-width="0.12">1.2</text>
<text x="54.3" y="11.80" text-anchor="end" font-family='"Liberation Serif", serif' font-size="8.6" fill="#2a2a2a" stroke="#2a2a2a" stroke-width="0.12">1.4</text>
<text x="61.60" y="111.6" text-anchor="middle" font-family='"Liberation Serif", serif' font-size="8.6" fill="#2a2a2a" stroke="#2a2a2a" stroke-width="0.12">0</text>
<text x="99.16" y="111.6" text-anchor="middle" font-family='"Liberation Serif", serif' font-size="8.6" fill="#2a2a2a" stroke="#2a2a2a" stroke-width="0.12">0.2</text>
<text x="136.72" y="111.6" text-anchor="middle" font-family='"Liberation Serif", serif' font-size="8.6" fill="#2a2a2a" stroke="#2a2a2a" stroke-width="0.12">0.4</text>
<text x="174.28" y="111.6" text-anchor="middle" font-family='"Liberation Serif", serif' font-size="8.6" fill="#2a2a2a" stroke="#2a2a2a" stroke-width="0.12">0.6</text>
<text x="211.84" y="111.6" text-anchor="middle" font-family='"Liberation Serif", serif' font-size="8.6" fill="#2a2a2a" stroke="#2a2a2a" stroke-width="0.12">0.8</text>
<text x="249.40" y="111.6" text-anchor="middle" font-family='"Liberation Serif", serif' font-size="8.6" fill="#2a2a2a" stroke="#2a2a2a" stroke-width="0.12">1</text>
<text transform="translate(112.85 123.4) scale(1.0 1)" x="0" y="0" font-family='"Liberation Sans", sans-serif' font-weight="bold" font-size="7.9" textLength="85.00" lengthAdjust="spacing" fill="#111" stroke="#111" stroke-width="0.12">Zn concentration (mM)</text>
<text transform="translate(41.2 53.1) rotate(-90)" text-anchor="middle" font-family='"Liberation Sans", sans-serif' font-weight="bold" font-size="8.4" textLength="36.3" lengthAdjust="spacingAndGlyphs" fill="#111" stroke="#111" stroke-width="0.18">OD600nm</text>
<text x="279.70" y="16.20" font-family='"Liberation Serif", serif' font-size="7.8" fill="#1a1a1a" stroke="#1a1a1a" stroke-width="0.18">WT</text>
<text x="279.70" y="27.05" font-family='"Liberation Serif", serif' font-size="7.8" fill="#1a1a1a" stroke="#1a1a1a" stroke-width="0.18">ΔcopA3</text>
<text x="279.70" y="37.90" font-family='"Liberation Serif", serif' font-size="7.8" fill="#1a1a1a" stroke="#1a1a1a" stroke-width="0.18">Δnia</text>
<text x="279.70" y="48.75" font-family='"Liberation Serif", serif' font-size="7.8" fill="#1a1a1a" stroke="#1a1a1a" stroke-width="0.18">ΔfixI1</text>
<text x="279.70" y="59.60" font-family='"Liberation Serif", serif' font-size="7.8" fill="#1a1a1a" stroke="#1a1a1a" stroke-width="0.18">ΔcopA1b</text>
<text x="279.70" y="70.45" font-family='"Liberation Serif", serif' font-size="7.8" fill="#1a1a1a" stroke="#1a1a1a" stroke-width="0.18">ΔzntA</text>
<text x="359.3" y="11.9" font-family='"Liberation Serif", serif' font-size="14.5" fill="#1a1a1a" stroke="#1a1a1a" stroke-width="0.1">B</text>
<text x="409.2" y="104.60" text-anchor="end" font-family='"Liberation Serif", serif' font-size="8.6" fill="#2a2a2a" stroke="#2a2a2a" stroke-width="0.12">0</text>
<text x="409.2" y="93.14" text-anchor="end" font-family='"Liberation Serif", serif' font-size="8.6" fill="#2a2a2a" stroke="#2a2a2a" stroke-width="0.12">0.2</text>
<text x="409.2" y="81.67" text-anchor="end" font-family='"Liberation Serif", serif' font-size="8.6" fill="#2a2a2a" stroke="#2a2a2a" stroke-width="0.12">0.4</text>
<text x="409.2" y="70.21" text-anchor="end" font-family='"Liberation Serif", serif' font-size="8.6" fill="#2a2a2a" stroke="#2a2a2a" stroke-width="0.12">0.6</text>
<text x="409.2" y="58.75" text-anchor="end" font-family='"Liberation Serif", serif' font-size="8.6" fill="#2a2a2a" stroke="#2a2a2a" stroke-width="0.12">0.8</text>
<text x="409.2" y="47.29" text-anchor="end" font-family='"Liberation Serif", serif' font-size="8.6" fill="#2a2a2a" stroke="#2a2a2a" stroke-width="0.12">1</text>
<text x="409.2" y="35.83" text-anchor="end" font-family='"Liberation Serif", serif' font-size="8.6" fill="#2a2a2a" stroke="#2a2a2a" stroke-width="0.12">1.2</text>
<text x="409.2" y="24.36" text-anchor="end" font-family='"Liberation Serif", serif' font-size="8.6" fill="#2a2a2a" stroke="#2a2a2a" stroke-width="0.12">1.4</text>
<text x="409.2" y="12.90" text-anchor="end" font-family='"Liberation Serif", serif' font-size="8.6" fill="#2a2a2a" stroke="#2a2a2a" stroke-width="0.12">1.6</text>
<text x="415.80" y="113.6" text-anchor="middle" font-family='"Liberation Serif", serif' font-size="8.6" fill="#2a2a2a" stroke="#2a2a2a" stroke-width="0.12">0</text>
<text x="447.47" y="113.6" text-anchor="middle" font-family='"Liberation Serif", serif' font-size="8.6" fill="#2a2a2a" stroke="#2a2a2a" stroke-width="0.12">0.03</text>
<text x="479.13" y="113.6" text-anchor="middle" font-family='"Liberation Serif", serif' font-size="8.6" fill="#2a2a2a" stroke="#2a2a2a" stroke-width="0.12">0.06</text>
<text x="510.80" y="113.6" text-anchor="middle" font-family='"Liberation Serif", serif' font-size="8.6" fill="#2a2a2a" stroke="#2a2a2a" stroke-width="0.12">0.09</text>
<text x="542.47" y="113.6" text-anchor="middle" font-family='"Liberation Serif", serif' font-size="8.6" fill="#2a2a2a" stroke="#2a2a2a" stroke-width="0.12">0.12</text>
<text x="574.13" y="113.6" text-anchor="middle" font-family='"Liberation Serif", serif' font-size="8.6" fill="#2a2a2a" stroke="#2a2a2a" stroke-width="0.12">0.15</text>
<text x="605.80" y="113.6" text-anchor="middle" font-family='"Liberation Serif", serif' font-size="8.6" fill="#2a2a2a" stroke="#2a2a2a" stroke-width="0.12">0.18</text>
<text transform="translate(468.1 124.3) scale(1.0 1)" x="0" y="0" font-family='"Liberation Sans", sans-serif' font-weight="bold" font-size="7.9" textLength="85.80" lengthAdjust="spacing" fill="#111" stroke="#111" stroke-width="0.12">Cd concentration (mM)</text>
<text transform="translate(395.2 55) rotate(-90)" text-anchor="middle" font-family='"Liberation Sans", sans-serif' font-weight="bold" font-size="8.4" textLength="36.3" lengthAdjust="spacingAndGlyphs" fill="#111" stroke="#111" stroke-width="0.18">OD600nm</text>
<text x="642.90" y="20.10" font-family='"Liberation Serif", serif' font-size="7.8" fill="#1a1a1a" stroke="#1a1a1a" stroke-width="0.18">WT</text>
<text x="642.90" y="30.16" font-family='"Liberation Serif", serif' font-size="7.8" fill="#1a1a1a" stroke="#1a1a1a" stroke-width="0.18">ΔcopA3</text>
<text x="642.90" y="40.22" font-family='"Liberation Serif", serif' font-size="7.8" fill="#1a1a1a" stroke="#1a1a1a" stroke-width="0.18">Δnia</text>
<text x="642.90" y="50.28" font-family='"Liberation Serif", serif' font-size="7.8" fill="#1a1a1a" stroke="#1a1a1a" stroke-width="0.18">ΔfixI1</text>
<text x="642.90" y="60.34" font-family='"Liberation Serif", serif' font-size="7.8" fill="#1a1a1a" stroke="#1a1a1a" stroke-width="0.18">ΔcopA1b</text>
<text x="642.90" y="70.40" font-family='"Liberation Serif", serif' font-size="7.8" fill="#1a1a1a" stroke="#1a1a1a" stroke-width="0.18">ΔzntA</text>
<text x="2.5" y="157.3" font-family='"Liberation Serif", serif' font-size="14.5" fill="#1a1a1a" stroke="#1a1a1a" stroke-width="0.1">C</text>
<text x="56.5" y="244.50" text-anchor="end" font-family='"Liberation Serif", serif' font-size="8.6" fill="#2a2a2a" stroke="#2a2a2a" stroke-width="0.12">0</text>
<text x="56.5" y="231.84" text-anchor="end" font-family='"Liberation Serif", serif' font-size="8.6" fill="#2a2a2a" stroke="#2a2a2a" stroke-width="0.12">0.2</text>
<text x="56.5" y="219.19" text-anchor="end" font-family='"Liberation Serif", serif' font-size="8.6" fill="#2a2a2a" stroke="#2a2a2a" stroke-width="0.12">0.4</text>
<text x="56.5" y="206.53" text-anchor="end" font-family='"Liberation Serif", serif' font-size="8.6" fill="#2a2a2a" stroke="#2a2a2a" stroke-width="0.12">0.6</text>
<text x="56.5" y="193.87" text-anchor="end" font-family='"Liberation Serif", serif' font-size="8.6" fill="#2a2a2a" stroke="#2a2a2a" stroke-width="0.12">0.8</text>
<text x="56.5" y="181.21" text-anchor="end" font-family='"Liberation Serif", serif' font-size="8.6" fill="#2a2a2a" stroke="#2a2a2a" stroke-width="0.12">1</text>
<text x="56.5" y="168.56" text-anchor="end" font-family='"Liberation Serif", serif' font-size="8.6" fill="#2a2a2a" stroke="#2a2a2a" stroke-width="0.12">1.2</text>
<text x="56.5" y="155.90" text-anchor="end" font-family='"Liberation Serif", serif' font-size="8.6" fill="#2a2a2a" stroke="#2a2a2a" stroke-width="0.12">1.4</text>
<text x="63.30" y="254" text-anchor="middle" font-family='"Liberation Serif", serif' font-size="8.6" fill="#2a2a2a" stroke="#2a2a2a" stroke-width="0.12">0</text>
<text x="93.85" y="254" text-anchor="middle" font-family='"Liberation Serif", serif' font-size="8.6" fill="#2a2a2a" stroke="#2a2a2a" stroke-width="0.12">0.5</text>
<text x="124.40" y="254" text-anchor="middle" font-family='"Liberation Serif", serif' font-size="8.6" fill="#2a2a2a" stroke="#2a2a2a" stroke-width="0.12">1</text>
<text x="154.95" y="254" text-anchor="middle" font-family='"Liberation Serif", serif' font-size="8.6" fill="#2a2a2a" stroke="#2a2a2a" stroke-width="0.12">1.5</text>
<text x="185.50" y="254" text-anchor="middle" font-family='"Liberation Serif", serif' font-size="8.6" fill="#2a2a2a" stroke="#2a2a2a" stroke-width="0.12">2</text>
<text x="216.05" y="254" text-anchor="middle" font-family='"Liberation Serif", serif' font-size="8.6" fill="#2a2a2a" stroke="#2a2a2a" stroke-width="0.12">2.5</text>
<text x="246.60" y="254" text-anchor="middle" font-family='"Liberation Serif", serif' font-size="8.6" fill="#2a2a2a" stroke="#2a2a2a" stroke-width="0.12">3</text>
<text transform="translate(112.4 262.7) scale(1.0 1)" x="0" y="0" font-family='"Liberation Sans", sans-serif' font-weight="bold" font-size="7.9" textLength="84.30" lengthAdjust="spacing" fill="#111" stroke="#111" stroke-width="0.12">Pb concentration (mM)</text>
<text transform="translate(42.5 196.1) rotate(-90)" text-anchor="middle" font-family='"Liberation Sans", sans-serif' font-weight="bold" font-size="8.4" textLength="36.3" lengthAdjust="spacingAndGlyphs" fill="#111" stroke="#111" stroke-width="0.18">OD600nm</text>
<text x="283.30" y="163.70" font-family='"Liberation Serif", serif' font-size="7.8" fill="#1a1a1a" stroke="#1a1a1a" stroke-width="0.18">WT</text>
<text x="283.30" y="173.20" font-family='"Liberation Serif", serif' font-size="7.8" fill="#1a1a1a" stroke="#1a1a1a" stroke-width="0.18">ΔcopA3</text>
<text x="283.30" y="182.70" font-family='"Liberation Serif", serif' font-size="7.8" fill="#1a1a1a" stroke="#1a1a1a" stroke-width="0.18">Δnia</text>
<text x="283.30" y="192.20" font-family='"Liberation Serif", serif' font-size="7.8" fill="#1a1a1a" stroke="#1a1a1a" stroke-width="0.18">ΔfixI1</text>
<text x="283.30" y="201.70" font-family='"Liberation Serif", serif' font-size="7.8" fill="#1a1a1a" stroke="#1a1a1a" stroke-width="0.18">ΔcopA1b</text>
<text x="283.30" y="211.20" font-family='"Liberation Serif", serif' font-size="7.8" fill="#1a1a1a" stroke="#1a1a1a" stroke-width="0.18">ΔzntA</text>
<text x="358.6" y="157.4" font-family='"Liberation Serif", serif' font-size="14.5" fill="#1a1a1a" stroke="#1a1a1a" stroke-width="0.1">D</text>
<text x="407.7" y="243.10" text-anchor="end" font-family='"Liberation Serif", serif' font-size="8.6" fill="#2a2a2a" stroke="#2a2a2a" stroke-width="0.12">0</text>
<text x="407.7" y="230.79" text-anchor="end" font-family='"Liberation Serif", serif' font-size="8.6" fill="#2a2a2a" stroke="#2a2a2a" stroke-width="0.12">0.2</text>
<text x="407.7" y="218.47" text-anchor="end" font-family='"Liberation Serif", serif' font-size="8.6" fill="#2a2a2a" stroke="#2a2a2a" stroke-width="0.12">0.4</text>
<text x="407.7" y="206.16" text-anchor="end" font-family='"Liberation Serif", serif' font-size="8.6" fill="#2a2a2a" stroke="#2a2a2a" stroke-width="0.12">0.6</text>
<text x="407.7" y="193.84" text-anchor="end" font-family='"Liberation Serif", serif' font-size="8.6" fill="#2a2a2a" stroke="#2a2a2a" stroke-width="0.12">0.8</text>
<text x="407.7" y="181.53" text-anchor="end" font-family='"Liberation Serif", serif' font-size="8.6" fill="#2a2a2a" stroke="#2a2a2a" stroke-width="0.12">1</text>
<text x="407.7" y="169.21" text-anchor="end" font-family='"Liberation Serif", serif' font-size="8.6" fill="#2a2a2a" stroke="#2a2a2a" stroke-width="0.12">1.2</text>
<text x="407.7" y="156.90" text-anchor="end" font-family='"Liberation Serif", serif' font-size="8.6" fill="#2a2a2a" stroke="#2a2a2a" stroke-width="0.12">1.4</text>
<text x="414.60" y="252.6" text-anchor="middle" font-family='"Liberation Serif", serif' font-size="8.6" fill="#2a2a2a" stroke="#2a2a2a" stroke-width="0.12">0</text>
<text x="446.53" y="252.6" text-anchor="middle" font-family='"Liberation Serif", serif' font-size="8.6" fill="#2a2a2a" stroke="#2a2a2a" stroke-width="0.12">0.3</text>
<text x="478.47" y="252.6" text-anchor="middle" font-family='"Liberation Serif", serif' font-size="8.6" fill="#2a2a2a" stroke="#2a2a2a" stroke-width="0.12">0.6</text>
<text x="510.40" y="252.6" text-anchor="middle" font-family='"Liberation Serif", serif' font-size="8.6" fill="#2a2a2a" stroke="#2a2a2a" stroke-width="0.12">0.9</text>
<text x="542.33" y="252.6" text-anchor="middle" font-family='"Liberation Serif", serif' font-size="8.6" fill="#2a2a2a" stroke="#2a2a2a" stroke-width="0.12">1.2</text>
<text x="574.27" y="252.6" text-anchor="middle" font-family='"Liberation Serif", serif' font-size="8.6" fill="#2a2a2a" stroke="#2a2a2a" stroke-width="0.12">1.5</text>
<text x="606.20" y="252.6" text-anchor="middle" font-family='"Liberation Serif", serif' font-size="8.6" fill="#2a2a2a" stroke="#2a2a2a" stroke-width="0.12">1.8</text>
<text transform="translate(467.6 262.8) scale(1.0 1)" x="0" y="0" font-family='"Liberation Sans", sans-serif' font-weight="bold" font-size="7.9" textLength="85.90" lengthAdjust="spacing" fill="#111" stroke="#111" stroke-width="0.12">Cu concentration (mM)</text>
<text transform="translate(393.7 196.5) rotate(-90)" text-anchor="middle" font-family='"Liberation Sans", sans-serif' font-weight="bold" font-size="8.4" textLength="36.3" lengthAdjust="spacingAndGlyphs" fill="#111" stroke="#111" stroke-width="0.18">OD600nm</text>
<text x="645.50" y="165.10" font-family='"Liberation Serif", serif' font-size="7.8" fill="#1a1a1a" stroke="#1a1a1a" stroke-width="0.18">WT</text>
<text x="645.50" y="175.10" font-family='"Liberation Serif", serif' font-size="7.8" fill="#1a1a1a" stroke="#1a1a1a" stroke-width="0.18">ΔcopA3</text>
<text x="645.50" y="185.10" font-family='"Liberation Serif", serif' font-size="7.8" fill="#1a1a1a" stroke="#1a1a1a" stroke-width="0.18">Δnia</text>
<text x="645.50" y="195.10" font-family='"Liberation Serif", serif' font-size="7.8" fill="#1a1a1a" stroke="#1a1a1a" stroke-width="0.18">ΔfixI1</text>
<text x="645.50" y="205.10" font-family='"Liberation Serif", serif' font-size="7.8" fill="#1a1a1a" stroke="#1a1a1a" stroke-width="0.18">ΔcopA1b</text>
<text x="645.50" y="215.10" font-family='"Liberation Serif", serif' font-size="7.8" fill="#1a1a1a" stroke="#1a1a1a" stroke-width="0.18">ΔzntA</text>
<text x="4.2" y="291.1" font-family='"Liberation Serif", serif' font-size="14.5" fill="#1a1a1a" stroke="#1a1a1a" stroke-width="0.1">E</text>
<text x="56.8" y="371.70" text-anchor="end" font-family='"Liberation Serif", serif' font-size="8.6" fill="#2a2a2a" stroke="#2a2a2a" stroke-width="0.12">0</text>
<text x="56.8" y="360.06" text-anchor="end" font-family='"Liberation Serif", serif' font-size="8.6" fill="#2a2a2a" stroke="#2a2a2a" stroke-width="0.12">0.2</text>
<text x="56.8" y="348.41" text-anchor="end" font-family='"Liberation Serif", serif' font-size="8.6" fill="#2a2a2a" stroke="#2a2a2a" stroke-width="0.12">0.4</text>
<text x="56.8" y="336.77" text-anchor="end" font-family='"Liberation Serif", serif' font-size="8.6" fill="#2a2a2a" stroke="#2a2a2a" stroke-width="0.12">0.6</text>
<text x="56.8" y="325.13" text-anchor="end" font-family='"Liberation Serif", serif' font-size="8.6" fill="#2a2a2a" stroke="#2a2a2a" stroke-width="0.12">0.8</text>
<text x="56.8" y="313.49" text-anchor="end" font-family='"Liberation Serif", serif' font-size="8.6" fill="#2a2a2a" stroke="#2a2a2a" stroke-width="0.12">1</text>
<text x="56.8" y="301.84" text-anchor="end" font-family='"Liberation Serif", serif' font-size="8.6" fill="#2a2a2a" stroke="#2a2a2a" stroke-width="0.12">1.2</text>
<text x="56.8" y="290.20" text-anchor="end" font-family='"Liberation Serif", serif' font-size="8.6" fill="#2a2a2a" stroke="#2a2a2a" stroke-width="0.12">1.4</text>
<text x="63.70" y="381.6" text-anchor="middle" font-family='"Liberation Serif", serif' font-size="8.6" fill="#2a2a2a" stroke="#2a2a2a" stroke-width="0.12">0</text>
<text x="100.10" y="381.6" text-anchor="middle" font-family='"Liberation Serif", serif' font-size="8.6" fill="#2a2a2a" stroke="#2a2a2a" stroke-width="0.12">0.2</text>
<text x="136.50" y="381.6" text-anchor="middle" font-family='"Liberation Serif", serif' font-size="8.6" fill="#2a2a2a" stroke="#2a2a2a" stroke-width="0.12">0.4</text>
<text x="172.90" y="381.6" text-anchor="middle" font-family='"Liberation Serif", serif' font-size="8.6" fill="#2a2a2a" stroke="#2a2a2a" stroke-width="0.12">0.6</text>
<text x="209.30" y="381.6" text-anchor="middle" font-family='"Liberation Serif", serif' font-size="8.6" fill="#2a2a2a" stroke="#2a2a2a" stroke-width="0.12">0.8</text>
<text x="245.70" y="381.6" text-anchor="middle" font-family='"Liberation Serif", serif' font-size="8.6" fill="#2a2a2a" stroke="#2a2a2a" stroke-width="0.12">1</text>
<text transform="translate(113.9 389.7) scale(1.0 1)" x="0" y="0" font-family='"Liberation Sans", sans-serif' font-weight="bold" font-size="7.9" textLength="80.90" lengthAdjust="spacing" fill="#111" stroke="#111" stroke-width="0.12">Ni concentration (mM)</text>
<text transform="translate(43.5 327.5) rotate(-90)" text-anchor="middle" font-family='"Liberation Sans", sans-serif' font-weight="bold" font-size="8.4" textLength="36.3" lengthAdjust="spacingAndGlyphs" fill="#111" stroke="#111" stroke-width="0.18">OD600nm</text>
<text x="282.20" y="295.50" font-family='"Liberation Serif", serif' font-size="7.3" fill="#1a1a1a" stroke="#1a1a1a" stroke-width="0.18">WT</text>
<text x="282.20" y="304.52" font-family='"Liberation Serif", serif' font-size="7.3" fill="#1a1a1a" stroke="#1a1a1a" stroke-width="0.18">ΔcopA3</text>
<text x="282.20" y="313.54" font-family='"Liberation Serif", serif' font-size="7.3" fill="#1a1a1a" stroke="#1a1a1a" stroke-width="0.18">Δnia</text>
<text x="282.20" y="322.56" font-family='"Liberation Serif", serif' font-size="7.3" fill="#1a1a1a" stroke="#1a1a1a" stroke-width="0.18">ΔfixI1</text>
<text x="282.20" y="331.58" font-family='"Liberation Serif", serif' font-size="7.3" fill="#1a1a1a" stroke="#1a1a1a" stroke-width="0.18">ΔcopA1b</text>
<text x="282.20" y="340.60" font-family='"Liberation Serif", serif' font-size="7.3" fill="#1a1a1a" stroke="#1a1a1a" stroke-width="0.18">ΔzntA</text>
</svg>
</body></html>
